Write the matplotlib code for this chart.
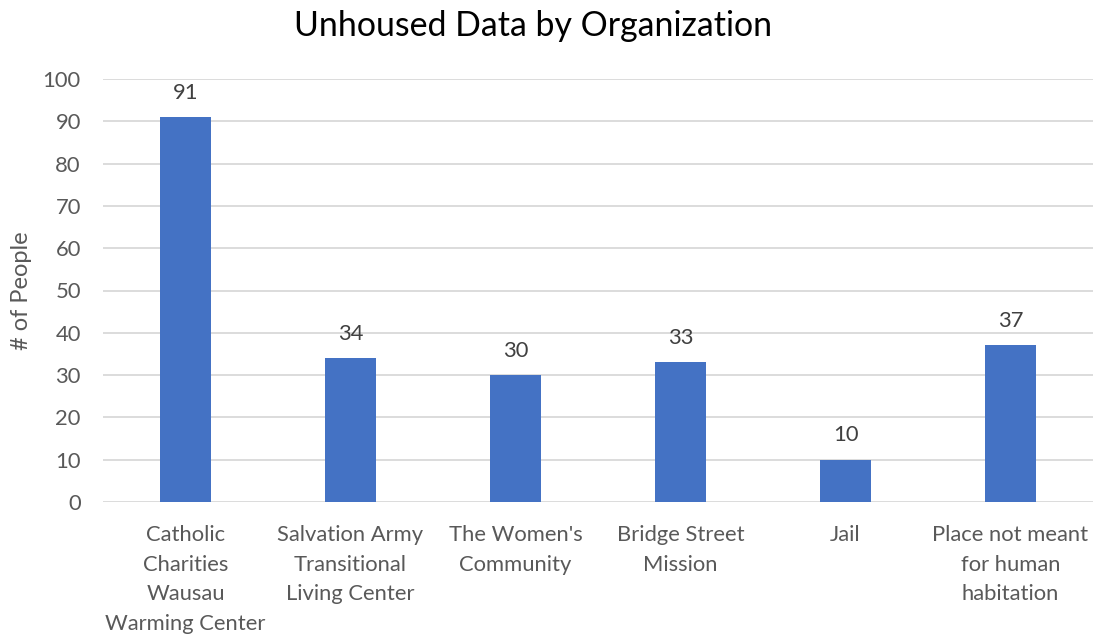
import matplotlib
matplotlib.use("Agg")
import matplotlib.pyplot as plt

categories = ["Catholic\nCharities\nWausau\nWarming Center",
              "Salvation Army\nTransitional\nLiving Center",
              "The Women's\nCommunity",
              "Bridge Street\nMission",
              "Jail",
              "Place not meant\nfor human\nhabitation"]
values = [91, 34, 30, 33, 10, 37]
yticks = [0, 10, 20, 30, 40, 50, 60, 70, 80, 90, 100]

plt.rcParams['font.family'] = ['Lato', 'DejaVu Sans']

fig = plt.figure(figsize=(10.97, 6.34), dpi=100)
ax = fig.add_axes([103/1097, 1 - 502/634, 990/1097, (502 - 79)/634])

x = list(range(len(categories)))
bars = ax.bar(x, values, width=0.315, color="#4472C4", zorder=3)
ax.set_xlim(-0.5, len(categories) - 0.5)
ax.set_ylim(0, 100)
ax.set_yticks(yticks)
ax.yaxis.grid(True, color="#D9D9D9", linewidth=1.3, zorder=0)
for s in ax.spines.values():
    s.set_visible(False)
ax.tick_params(axis='both', length=0, labelsize=15.8, colors="#595959")
ax.tick_params(axis='y', pad=16)
ax.tick_params(axis='x', pad=16.5)
ax.set_xticks(x)
ax.set_xticklabels(categories, linespacing=1.6)

for xi, v in zip(x, values):
    ax.annotate(str(v), (xi, v), xytext=(0, 17.5), textcoords="offset points",
                ha="center", va="center", fontsize=15.8, color="#404040")

ax.set_ylabel("# of People", fontsize=17, color="#595959")
ax.yaxis.set_label_coords(-(103 - 22) / 990, 0.5)
ax.yaxis.label.set_va("center")
fig.text(533/1097, 1 - 26/634, "Unhoused Data by Organization",
         ha="center", va="center", fontsize=24.4, color="#000000")

fig.savefig("out.png", dpi=100)
